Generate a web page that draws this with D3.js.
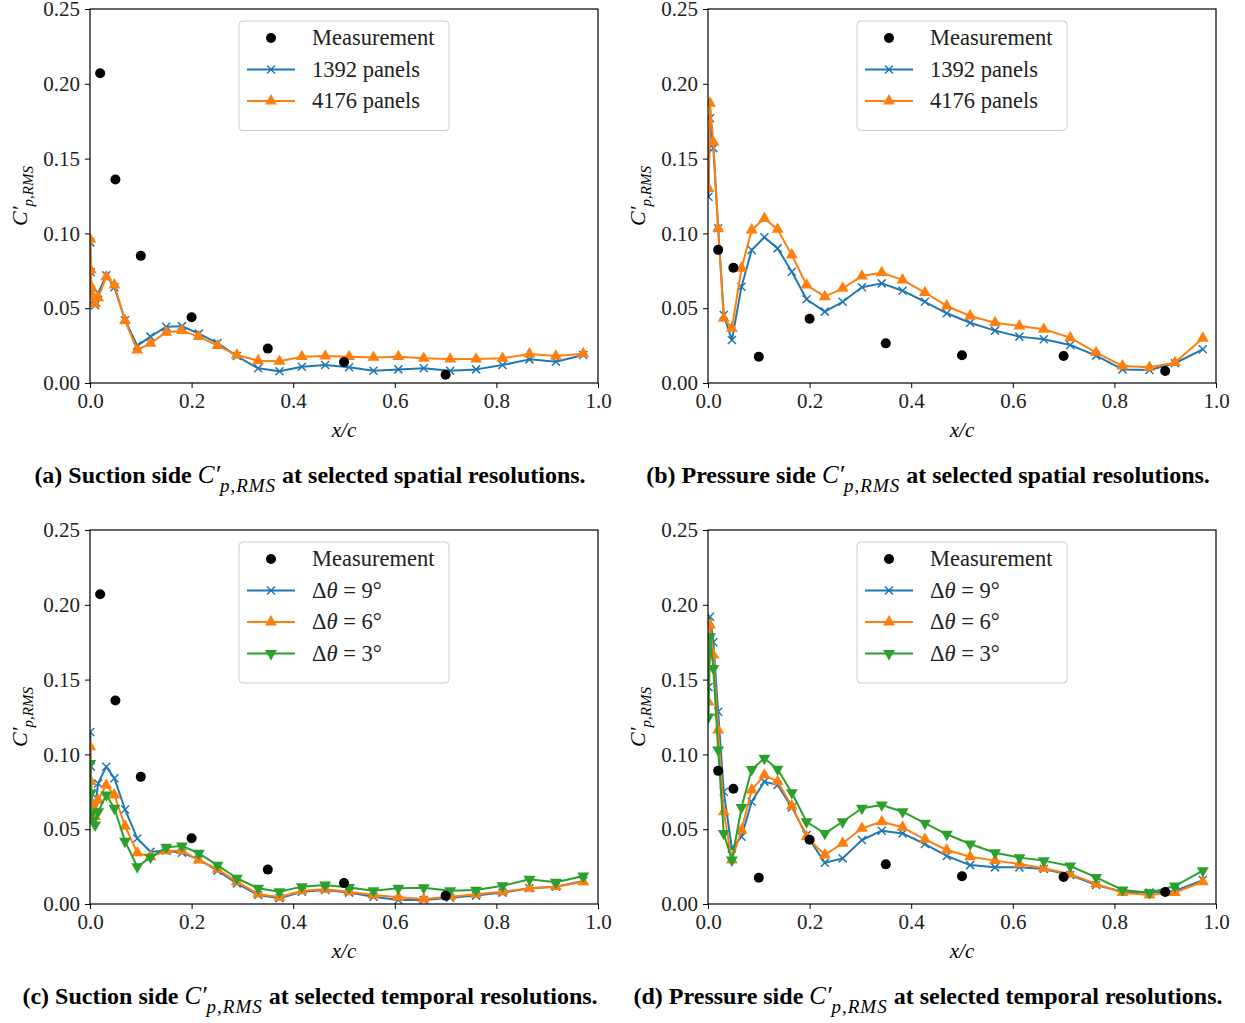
<!DOCTYPE html>
<html>
<head>
<meta charset="utf-8">
<script src="https://cdn.jsdelivr.net/npm/d3@7"></script>
<style>
  body { margin: 0; background: #fff; }
  svg text { font-family: "Liberation Serif", "DejaVu Serif", serif; }
</style>
</head>
<body>
<div id="chart"></div>
<script>
// ---- data ----
const suctionX = [0.0005, 0.0015, 0.003, 0.006, 0.010, 0.016, 0.032, 0.048, 0.069, 0.093,
  0.119, 0.150, 0.181, 0.214, 0.251, 0.289, 0.331, 0.373, 0.417, 0.463,
  0.510, 0.558, 0.607, 0.657, 0.709, 0.760, 0.812, 0.865, 0.917, 0.971];
const pressureX = [0.001, 0.004, 0.0105, 0.020, 0.031, 0.047, 0.066, 0.086, 0.111, 0.137,
  0.165, 0.194, 0.230, 0.265, 0.303, 0.342, 0.383, 0.427, 0.470, 0.516,
  0.565, 0.613, 0.661, 0.713, 0.764, 0.816, 0.869, 0.919, 0.974];

const suctionMeasX = [0.02, 0.05, 0.1, 0.2, 0.35, 0.5, 0.7];
const suctionMeas = [0.207, 0.136, 0.085, 0.044, 0.023, 0.014, 0.0055];
const pressureMeasX = [0.02, 0.05, 0.1, 0.2, 0.35, 0.5, 0.7, 0.9];
const pressureMeas = [0.089, 0.077, 0.0175, 0.043, 0.0265, 0.0185, 0.018, 0.008];

// (a) suction side, spatial resolution
const suction1392 = [0.094, 0.074, 0.060, 0.055, 0.052, 0.060, 0.072, 0.064, 0.042, 0.025,
  0.031, 0.0376, 0.038, 0.033, 0.0267, 0.018, 0.0098, 0.0078, 0.0109, 0.012,
  0.0105, 0.0082, 0.0091, 0.0098, 0.0082, 0.0091, 0.012, 0.0158, 0.0142, 0.0187];
const suction4176 = [0.096, 0.0755, 0.064, 0.058, 0.053, 0.057, 0.071, 0.0655, 0.0417, 0.022,
  0.0265, 0.0339, 0.035, 0.031, 0.025, 0.0187, 0.0149, 0.0145, 0.0176, 0.018,
  0.0176, 0.0171, 0.0176, 0.0165, 0.016, 0.016, 0.0165, 0.0194, 0.018, 0.0196];

// (b) pressure side, spatial resolution
const pressure1392 = [0.1245, 0.177, 0.157, 0.1034, 0.0455, 0.0287, 0.0644, 0.0889, 0.0974, 0.090,
  0.0744, 0.056, 0.0477, 0.0543, 0.064, 0.0666, 0.0617, 0.0543, 0.0466, 0.0403,
  0.035, 0.031, 0.0292, 0.0254, 0.0183, 0.0091, 0.0087, 0.0132, 0.0225];
const pressure4176 = [0.130, 0.187, 0.161, 0.1034, 0.0432, 0.0366, 0.0767, 0.1023, 0.110, 0.1027,
  0.0856, 0.0655, 0.0577, 0.0633, 0.0715, 0.0737, 0.0689, 0.0604, 0.0515, 0.0448,
  0.0403, 0.0381, 0.0359, 0.0303, 0.0203, 0.0114, 0.0105, 0.0136, 0.0299];

// (c) suction side, temporal resolution
const suctionDt9 = [0.115, 0.092, 0.074, 0.068, 0.065, 0.0806, 0.0918, 0.084, 0.0632, 0.0438,
  0.0349, 0.0356, 0.0342, 0.0298, 0.0223, 0.0138, 0.006, 0.0038, 0.0082, 0.0093,
  0.0076, 0.0049, 0.0027, 0.0027, 0.0042, 0.0056, 0.0076, 0.0105, 0.0116, 0.0154];
const suctionDt6 = [0.105, 0.0818, 0.067, 0.062, 0.0584, 0.0695, 0.0795, 0.0729, 0.052, 0.0342,
  0.0316, 0.0356, 0.0356, 0.0294, 0.0232, 0.0149, 0.0067, 0.0045, 0.0089, 0.0098,
  0.0082, 0.006, 0.0045, 0.0033, 0.0049, 0.0065, 0.0082, 0.0105, 0.0116, 0.0149];
const suctionDt3 = [0.094, 0.074, 0.0606, 0.056, 0.0528, 0.0617, 0.0729, 0.064, 0.0419, 0.0249,
  0.0312, 0.0379, 0.0388, 0.0339, 0.026, 0.0172, 0.0105, 0.0082, 0.0116, 0.0127,
  0.0111, 0.0089, 0.0105, 0.0109, 0.0089, 0.0093, 0.0122, 0.0165, 0.0145, 0.0187];

// (d) pressure side, temporal resolution
const pressureDt9 = [0.145, 0.192, 0.175, 0.1285, 0.075, 0.0372, 0.045, 0.0684, 0.0818, 0.0795,
  0.0646, 0.0461, 0.0276, 0.0305, 0.0428, 0.049, 0.0472, 0.0401, 0.0321, 0.026,
  0.0245, 0.0245, 0.0234, 0.0194, 0.0127, 0.0082, 0.0076, 0.0087, 0.016];
const pressureDt6 = [0.135, 0.1865, 0.1664, 0.1163, 0.0617, 0.0294, 0.0495, 0.0762, 0.0862, 0.0818,
  0.0655, 0.045, 0.0328, 0.0406, 0.0506, 0.055, 0.0513, 0.0432, 0.0361, 0.0316,
  0.029, 0.0267, 0.0239, 0.02, 0.0134, 0.0076, 0.006, 0.0076, 0.0149];
const pressureDt3 = [0.125, 0.1787, 0.1575, 0.103, 0.0472, 0.0294, 0.0646, 0.090, 0.0974, 0.0901,
  0.0744, 0.055, 0.0472, 0.055, 0.064, 0.0662, 0.0617, 0.054, 0.0466, 0.0401,
  0.0343, 0.031, 0.029, 0.0254, 0.0178, 0.0094, 0.0076, 0.012, 0.0223];

const xTicks = [0, 0.2, 0.4, 0.6, 0.8, 1.0];
const yTicks = [0, 0.05, 0.10, 0.15, 0.20, 0.25];

// ---- layout ----
const width = 1245, height = 1023;
const plotW = 508, plotH = 374;
const colors = { blue: "#1f77b4", orange: "#ff7f0e", green: "#2ca02c" };

const svg = d3.select("#chart").append("svg")
  .attr("width", width).attr("height", height);

const panels = [
  { left: 90, top: 9, side: "Suction", kind: "spatial", letter: "a", cx: 310,
    x: suctionX, mx: suctionMeasX, my: suctionMeas,
    series: [
      { label: [["1392 panels", false]], y: suction1392, color: colors.blue, marker: "x" },
      { label: [["4176 panels", false]], y: suction4176, color: colors.orange, marker: "tri" }
    ] },
  { left: 708, top: 9, side: "Pressure", kind: "spatial", letter: "b", cx: 928,
    x: pressureX, mx: pressureMeasX, my: pressureMeas,
    series: [
      { label: [["1392 panels", false]], y: pressure1392, color: colors.blue, marker: "x" },
      { label: [["4176 panels", false]], y: pressure4176, color: colors.orange, marker: "tri" }
    ] },
  { left: 90, top: 530, side: "Suction", kind: "temporal", letter: "c", cx: 310,
    x: suctionX, mx: suctionMeasX, my: suctionMeas,
    series: [
      { label: [["Δ", false], ["θ", true], [" = 9°", false]], y: suctionDt9, color: colors.blue, marker: "x" },
      { label: [["Δ", false], ["θ", true], [" = 6°", false]], y: suctionDt6, color: colors.orange, marker: "tri" },
      { label: [["Δ", false], ["θ", true], [" = 3°", false]], y: suctionDt3, color: colors.green, marker: "tridown" }
    ] },
  { left: 708, top: 530, side: "Pressure", kind: "temporal", letter: "d", cx: 928,
    x: pressureX, mx: pressureMeasX, my: pressureMeas,
    series: [
      { label: [["Δ", false], ["θ", true], [" = 9°", false]], y: pressureDt9, color: colors.blue, marker: "x" },
      { label: [["Δ", false], ["θ", true], [" = 6°", false]], y: pressureDt6, color: colors.orange, marker: "tri" },
      { label: [["Δ", false], ["θ", true], [" = 3°", false]], y: pressureDt3, color: colors.green, marker: "tridown" }
    ] }
];

// marker drawing helper
function drawMarker(g, type, cx, cy, color) {
  if (type === "x") {
    const s = 4;
    g.append("path")
      .attr("d", `M${cx - s},${cy - s}L${cx + s},${cy + s}M${cx - s},${cy + s}L${cx + s},${cy - s}`)
      .attr("stroke", color).attr("stroke-width", 1.5).attr("fill", "none");
  } else if (type === "tri" || type === "tridown") {
    const sym = d3.symbol().type(d3.symbolTriangle).size(62);
    g.append("path")
      .attr("d", sym())
      .attr("transform", `translate(${cx},${cy})` + (type === "tridown" ? " rotate(180)" : ""))
      .attr("fill", color);
  } else {
    g.append("circle").attr("cx", cx).attr("cy", cy).attr("r", 5).attr("fill", "#000");
  }
}

panels.forEach((p, i) => {
  const g = svg.append("g").attr("transform", `translate(${p.left},${p.top})`);

  const x = d3.scaleLinear().domain([0, 1]).range([0, plotW]);
  const y = d3.scaleLinear().domain([0, 0.25]).range([plotH, 0]);

  g.append("clipPath").attr("id", "clip" + i)
    .append("rect").attr("width", plotW).attr("height", plotH);

  // axes
  const xAxis = g.append("g").attr("transform", `translate(0,${plotH})`)
    .call(d3.axisBottom(x).tickValues(xTicks).tickFormat(d3.format(".1f")).tickSizeOuter(0).tickSize(5).tickPadding(5));
  const yAxis = g.append("g")
    .call(d3.axisLeft(y).tickValues(yTicks).tickFormat(d3.format(".2f")).tickSizeOuter(0).tickSize(5).tickPadding(5));
  [xAxis, yAxis].forEach(a => {
    a.select(".domain").remove();
    a.selectAll("line").attr("stroke", "#000").attr("stroke-width", 1);
    a.selectAll("text").attr("font-size", 21).attr("fill", "#222")
      .style("font-family", '"Liberation Serif", serif');
  });

  const plot = g.append("g").attr("clip-path", `url(#clip${i})`);

  // simulation series
  p.series.forEach(s => {
    const pts = p.x.map((xv, k) => [xv, s.y[k]]);
    plot.append("path")
      .datum(pts)
      .attr("d", d3.line().x(d => x(d[0])).y(d => y(d[1])))
      .attr("fill", "none").attr("stroke", s.color).attr("stroke-width", 2)
      .attr("stroke-linejoin", "round");
    pts.forEach(d => drawMarker(plot, s.marker, x(d[0]), y(d[1]), s.color));
  });

  // measurements on top
  p.mx.forEach((xv, k) => drawMarker(plot, "dot", x(xv), y(p.my[k]), "#000"));

  // frame
  g.append("rect").attr("width", plotW).attr("height", plotH)
    .attr("fill", "none").attr("stroke", "#000").attr("stroke-width", 1.2);

  // axis labels
  g.append("text")
    .attr("x", plotW / 2).attr("y", 428)
    .attr("text-anchor", "middle").attr("font-size", 21).attr("font-style", "italic")
    .text("x/c");

  const yl = g.append("text")
    .attr("transform", `translate(-63,${plotH / 2}) rotate(-90)`)
    .attr("text-anchor", "middle").attr("font-style", "italic").attr("font-size", 22);
  yl.append("tspan").text("C′");
  yl.append("tspan").attr("font-size", 15).attr("dy", 6).text("p,RMS");

  // legend
  const entries = [{ label: [["Measurement", false]], marker: "dot", color: "#000" }].concat(p.series);
  const rowH = 31.5;
  const lg = g.append("g").attr("transform", "translate(149,12)");
  lg.append("rect")
    .attr("width", 210).attr("height", 15 + rowH * entries.length)
    .attr("rx", 4).attr("fill", "#fff").attr("fill-opacity", 0.8)
    .attr("stroke", "#cccccc").attr("stroke-width", 1);
  entries.forEach((e, k) => {
    const cy = 17 + k * rowH;
    if (e.marker !== "dot") {
      lg.append("line").attr("x1", 8).attr("x2", 56).attr("y1", cy).attr("y2", cy)
        .attr("stroke", e.color).attr("stroke-width", 2);
    }
    drawMarker(lg, e.marker, 32, cy, e.color);
    const t = lg.append("text").attr("x", 73).attr("y", cy + 7).attr("font-size", 22.5).attr("fill", "#222");
    e.label.forEach(([txt, it]) => t.append("tspan").attr("font-style", it ? "italic" : "normal").text(txt));
  });

  // caption
  const cap = svg.append("text")
    .attr("x", p.cx).attr("y", p.top + 474)
    .attr("text-anchor", "middle").attr("font-size", 24);
  cap.append("tspan").attr("font-weight", "bold").text(`(${p.letter}) ${p.side} side `);
  cap.append("tspan").attr("font-style", "italic").attr("font-size", 25).text("C′");
  cap.append("tspan").attr("font-style", "italic").attr("font-size", 19).attr("dy", 9).attr("letter-spacing", 1).text("p,RMS");
  cap.append("tspan").attr("font-weight", "bold").attr("dy", -9).text(` at selected ${p.kind} resolutions.`);
});
</script>
</body>
</html>
